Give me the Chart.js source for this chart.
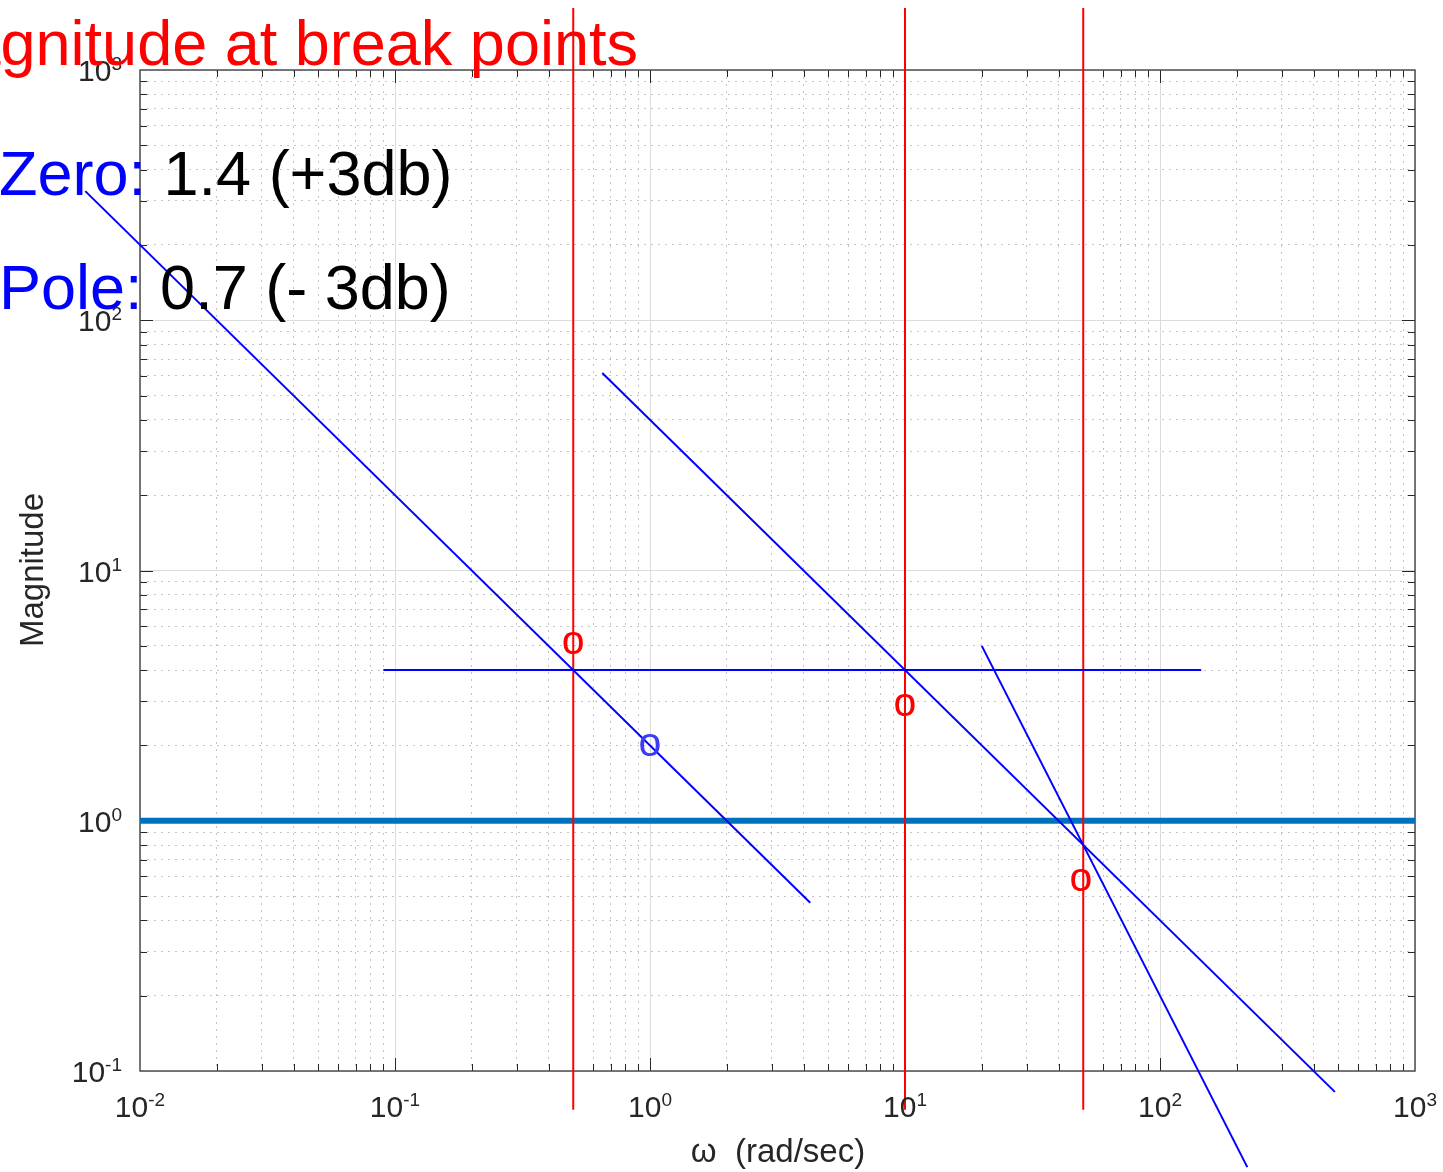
<!DOCTYPE html>
<html>
<head>
<meta charset="utf-8">
<script src="https://cdn.jsdelivr.net/npm/chart.js@4.4.0/dist/chart.umd.min.js"></script>
<style>
  body { margin: 0; background: #fff; }
</style>
</head>
<body>
<canvas id="bode" width="1443" height="1172"></canvas>
<script>
// decades on the axes (tick labels are 10^d)
const xDecades = [-2, -1, 0, 1, 2, 3];
const yDecades = [-1, 0, 1, 2, 3];

// break frequencies, drawn as red vertical lines
const breakFreqs = [0.5, 10, 50];
const breakSpan = [0.07, 1770];

// straight-line asymptotes
const slope1X = [0.0061, 4.25];
const slope1Y = [328, 0.47];
const slope2X = [0.65, 485];
const slope2Y = [61.5, 0.0825];
const slope3X = [20, 220];
const slope3Y = [5, 0.0413];
const flatX = [0.09, 145];
const flatY = [4, 4];
const unityX = [0.01, 1000];
const unityY = [1, 1];

// "o" labels near the break points
const redMarkX = [0.5, 10, 49];
const redMarkY = [5.1, 2.9, 0.575];
const blueMarkX = [1];
const blueMarkY = [2];

const FONT = '"Liberation Sans", Arial, Helvetica, sans-serif';
const AXIS_COLOR = '#262626';

function pts(xs, ys) {
    return xs.map((x, i) => ({ x: x, y: ys[i] }));
}

// decade + minor (2..9) ticks
function decadeTicks(decs) {
    const t = [];
    decs.forEach((d, i) => {
        const base = Math.pow(10, d);
        t.push({ value: base, major: true });
        if (i < decs.length - 1) {
            for (let k = 2; k <= 9; k++) t.push({ value: +(k * base).toPrecision(6), major: false });
        }
    });
    return t;
}

function blueLine(xs, ys) {
    return { data: pts(xs, ys), borderColor: '#0000ff', borderWidth: 2, clip: false, order: 0 };
}

const datasets = [
    { data: pts(unityX, unityY), borderColor: '#0072BD', borderWidth: 6, order: 2 },
    ...breakFreqs.map(f => ({
        data: pts([f, f], breakSpan), borderColor: '#ff0000', borderWidth: 2, clip: false, order: 1
    })),
    blueLine(slope1X, slope1Y),
    blueLine(slope2X, slope2Y),
    blueLine(slope3X, slope3Y),
    blueLine(flatX, flatY)
];

// box, inner ticks, labels and annotations (MATLAB look)
const matlabAxes = {
    id: 'matlabAxes',
    beforeDatasetsDraw(chart) {
        const { ctx, chartArea: a, scales: { x, y } } = chart;
        ctx.save();
        ctx.strokeStyle = AXIS_COLOR;
        ctx.lineWidth = 1;
        ctx.beginPath();
        x.ticks.forEach(t => {
            if (t.value <= x.min || t.value >= x.max) return;
            const px = Math.round(x.getPixelForValue(t.value)) + 0.5;
            const len = t.major ? 13 : 7;
            ctx.moveTo(px, a.bottom); ctx.lineTo(px, a.bottom - len);
            ctx.moveTo(px, a.top); ctx.lineTo(px, a.top + len);
        });
        y.ticks.forEach(t => {
            if (t.value <= y.min || t.value >= y.max) return;
            const py = Math.round(y.getPixelForValue(t.value)) + 0.5;
            const len = t.major ? 13 : 7;
            ctx.moveTo(a.left, py); ctx.lineTo(a.left + len, py);
            ctx.moveTo(a.right, py); ctx.lineTo(a.right - len, py);
        });
        ctx.stroke();
        ctx.strokeStyle = '#4d4d4d';
        ctx.lineWidth = 1.5;
        ctx.strokeRect(a.left, a.top, a.right - a.left, a.bottom - a.top);
        ctx.restore();
    },
    afterDatasetsDraw(chart) {
        const { ctx, scales: { x, y } } = chart;
        ctx.save();
        ctx.fillStyle = AXIS_COLOR;
        ctx.textBaseline = 'alphabetic';
        ctx.textAlign = 'left';

        function pow10(d, left, base) {
            ctx.font = '30px ' + FONT;
            ctx.fillText('10', left, base);
            const w = ctx.measureText('10').width;
            ctx.font = '19px ' + FONT;
            ctx.fillText(String(d), left + w, base - 11);
        }
        function pow10Width(d) {
            ctx.font = '30px ' + FONT;
            const w1 = ctx.measureText('10').width;
            ctx.font = '19px ' + FONT;
            return w1 + ctx.measureText(String(d)).width;
        }
        xDecades.forEach(d => {
            const px = x.getPixelForValue(Math.pow(10, d));
            pow10(d, px - pow10Width(d) / 2, 1117);
        });
        yDecades.forEach(d => {
            const py = y.getPixelForValue(Math.pow(10, d));
            pow10(d, 122 - pow10Width(d), py + 11);
        });

        // axis titles
        ctx.font = '33px ' + FONT;
        ctx.textAlign = 'center';
        ctx.fillText('ω  (rad/sec)', 778, 1162);
        ctx.save();
        ctx.translate(43, 570);
        ctx.rotate(-Math.PI / 2);
        ctx.fillText('Magnitude', 0, 0);
        ctx.restore();

        // "o" marks
        ctx.font = '41px ' + FONT;
        ctx.fillStyle = '#ff0000';
        redMarkX.forEach((v, i) => {
            ctx.fillText('o', x.getPixelForValue(v), y.getPixelForValue(redMarkY[i]) + 10.5);
        });
        ctx.fillStyle = '#3c3cf5';
        blueMarkX.forEach((v, i) => {
            ctx.fillText('o', x.getPixelForValue(v), y.getPixelForValue(blueMarkY[i]) + 10.5);
        });

        // annotation texts
        ctx.textAlign = 'left';
        ctx.font = '63px ' + FONT;
        ctx.fillStyle = '#ff0000';
        ctx.fillText('Magnitude at break points', -87, 65);

        function twoTone(head, tail, base) {
            ctx.fillStyle = '#0000ff';
            ctx.fillText(head, -1, base);
            const w = ctx.measureText(head).width;
            ctx.fillStyle = '#000000';
            ctx.fillText(tail, -1 + w, base);
        }
        twoTone('Zero:', ' 1.4 (+3db)', 195);
        twoTone('Pole:', ' 0.7 (- 3db)', 309);
        ctx.restore();
    }
};

const gridColor = c => (c.tick && c.tick.major) ? '#dcdcdc' : '#c4c4c4';
const gridDash = c => (c.tick && c.tick.major) ? [] : [2, 5];

new Chart(document.getElementById('bode'), {
    type: 'line',
    data: { datasets: datasets },
    options: {
        responsive: false,
        animation: false,
        events: [],
        layout: { padding: { left: 0, top: 70, right: 28, bottom: 0 } },
        elements: { point: { radius: 0 }, line: { tension: 0 } },
        plugins: { legend: { display: false }, tooltip: { enabled: false } },
        scales: {
            x: {
                type: 'logarithmic',
                min: 0.01,
                max: 1000,
                afterBuildTicks: s => { s.ticks = decadeTicks(xDecades); },
                afterFit: s => { s.height = 101; },
                ticks: { display: false },
                grid: { color: gridColor, lineWidth: 1, drawTicks: false },
                border: { display: false, dash: gridDash }
            },
            y: {
                type: 'logarithmic',
                min: 0.1,
                max: 1000,
                afterBuildTicks: s => { s.ticks = decadeTicks(yDecades); },
                afterFit: s => { s.width = 140; },
                ticks: { display: false },
                grid: { color: gridColor, lineWidth: 1, drawTicks: false },
                border: { display: false, dash: gridDash }
            }
        }
    },
    plugins: [matlabAxes]
});
</script>
</body>
</html>
